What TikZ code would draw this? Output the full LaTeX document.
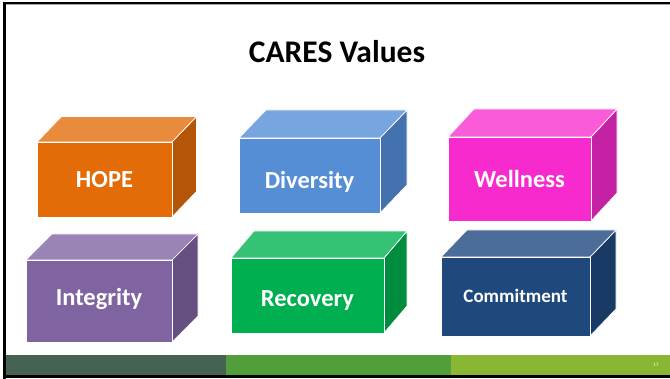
\documentclass[tikz,border=0pt]{standalone}
\usepackage{fontspec}
\setmainfont{Carlito}
\begin{document}
% colour sets: F = front face, T = top face, S = side face
\definecolor{hopeF}{HTML}{E36C09}\definecolor{hopeT}{HTML}{E98B3C}\definecolor{hopeS}{HTML}{B45507}
\definecolor{divF}{HTML}{558ED5}\definecolor{divT}{HTML}{76A5DF}\definecolor{divS}{HTML}{4472AE}
\definecolor{welF}{HTML}{F72BCD}\definecolor{welT}{HTML}{F95BD9}\definecolor{welS}{HTML}{C421A4}
\definecolor{intF}{HTML}{8064A2}\definecolor{intT}{HTML}{9A84B6}\definecolor{intS}{HTML}{664F81}
\definecolor{recF}{HTML}{00B050}\definecolor{recT}{HTML}{35C274}\definecolor{recS}{HTML}{008C3F}
\definecolor{comF}{HTML}{1F497D}\definecolor{comT}{HTML}{4B6D97}\definecolor{comS}{HTML}{193A64}
\definecolor{barA}{HTML}{466253}\definecolor{barB}{HTML}{529E3A}\definecolor{barC}{HTML}{8AB733}
\tikzset{
  face/.style={draw=white, line width=0.7pt, line join=round},
  cubelabel/.style={text=white, font=\fontsize{24.5}{24.5}\selectfont\bfseries, inner sep=0pt, anchor=base},
}
% \cube{prefix}{left}{top}{right}{bottom}{dx}{dy}{label}{label baseline}
\newcommand\cube[9]{%
  \fill[#1S, face] (#4,#3) -- ++(#6,-#7) -- (#4+#6,#5-#7) -- (#4,#5) -- cycle;
  \fill[#1T, face] (#2,#3) -- ++(#6,-#7) -- (#4+#6,#3-#7) -- (#4,#3) -- cycle;
  \fill[#1F, face] (#2,#3) rectangle (#4,#5);
  \node[cubelabel] (#1) at ({(#2+#4)/2},#9) {#8};
}
\begin{tikzpicture}[x=1pt, y=-1pt]
  \useasboundingbox (0,0) rectangle (670,379);
  \fill[white] (0,0) rectangle (670,379);
  % slide frame
  \fill[black!35] (4,3) rectangle (670,5);
  \fill[black] (3,2) rectangle (670,4);
  \fill[black] (3,2) rectangle (6,379);
  \fill[black] (3,375) rectangle (670,378.5);
  % footer bar
  \fill[barA] (6,355.5) rectangle (226,374.8);
  \fill[barB] (226,355.5) rectangle (451,374.8);
  \fill[barC] (451,355.5) rectangle (670,374.8);
  \node[text=white, font=\fontsize{5}{5}\selectfont, inner sep=0pt] (pagenum) at (656,365) {17};
  % title
  \node[font=\fontsize{31.5}{31.5}\selectfont\bfseries, inner sep=0pt] (title) at (337,52) {CARES Values};
  % value boxes
  \cube{hope}{37}{142}{172}{217}{24.5}{25.5}{HOPE}{187.5}
  \cube{div}{239}{138}{380}{213}{27}{28}{Diversity}{188.3}
  \cube{wel}{448}{137}{591}{221}{26}{28}{Wellness}{187.3}
  \cube{int}{26}{260}{172}{342}{26}{26}{Integrity}{306}
  \cube{rec}{231}{258}{384}{333}{23}{27}{Recovery}{306.5}
  \cube{com}{441}{257}{590}{336}{26}{27}{\fontsize{19}{19}\selectfont Commitment}{302.7}
\end{tikzpicture}
\end{document}
